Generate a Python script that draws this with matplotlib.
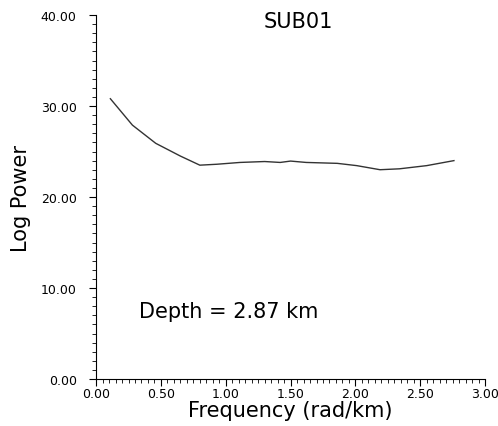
import numpy as np
import matplotlib.pyplot as plt
from matplotlib.ticker import MultipleLocator

# values
freq = [0.11, 0.28, 0.46, 0.65, 0.80, 0.93, 1.11, 1.30, 1.42, 1.50, 1.62,
        1.86, 2.01, 2.19, 2.34, 2.55, 2.76]
logPower = [30.8, 27.9, 25.9, 24.5, 23.5, 23.6, 23.8, 23.9, 23.8, 23.95, 23.8,
            23.7, 23.45, 23.0, 23.1, 23.45, 24.0]
title = 'SUB01'
depthLabel = 'Depth = 2.87 km'

fig = plt.figure(figsize=(4.98, 4.27), dpi=100)
ax = fig.add_axes([0.193, 0.110, 0.781, 0.8525])

ax.plot(freq, logPower, color='#333333', linewidth=1.0)

ax.set_xlim(0, 3)
ax.set_ylim(0, 40)
ax.xaxis.set_major_locator(MultipleLocator(0.5))
ax.xaxis.set_minor_locator(MultipleLocator(0.05))
ax.yaxis.set_major_locator(MultipleLocator(10))
ax.yaxis.set_minor_locator(MultipleLocator(1))
ax.xaxis.set_major_formatter(plt.FormatStrFormatter('%.2f'))
ax.yaxis.set_major_formatter(plt.FormatStrFormatter('%.2f'))

for s in ['top', 'right']:
    ax.spines[s].set_visible(False)
ax.tick_params(which='major', length=5, width=0.8, labelsize=9)
ax.tick_params(which='minor', length=3, width=0.6)
ax.tick_params(axis='x', which='major', pad=1)
ax.tick_params(axis='y', which='major', pad=9)

ax.set_xlabel('Frequency (rad/km)', fontsize=15, labelpad=0)
ax.set_ylabel('Log Power', fontsize=15, labelpad=7)

ax.text(1.56, 39.3, title, fontsize=15, ha='center', va='center')
ax.text(1.02, 7.5, depthLabel, fontsize=15, ha='center', va='center')

fig.savefig('out.png', dpi=100)
